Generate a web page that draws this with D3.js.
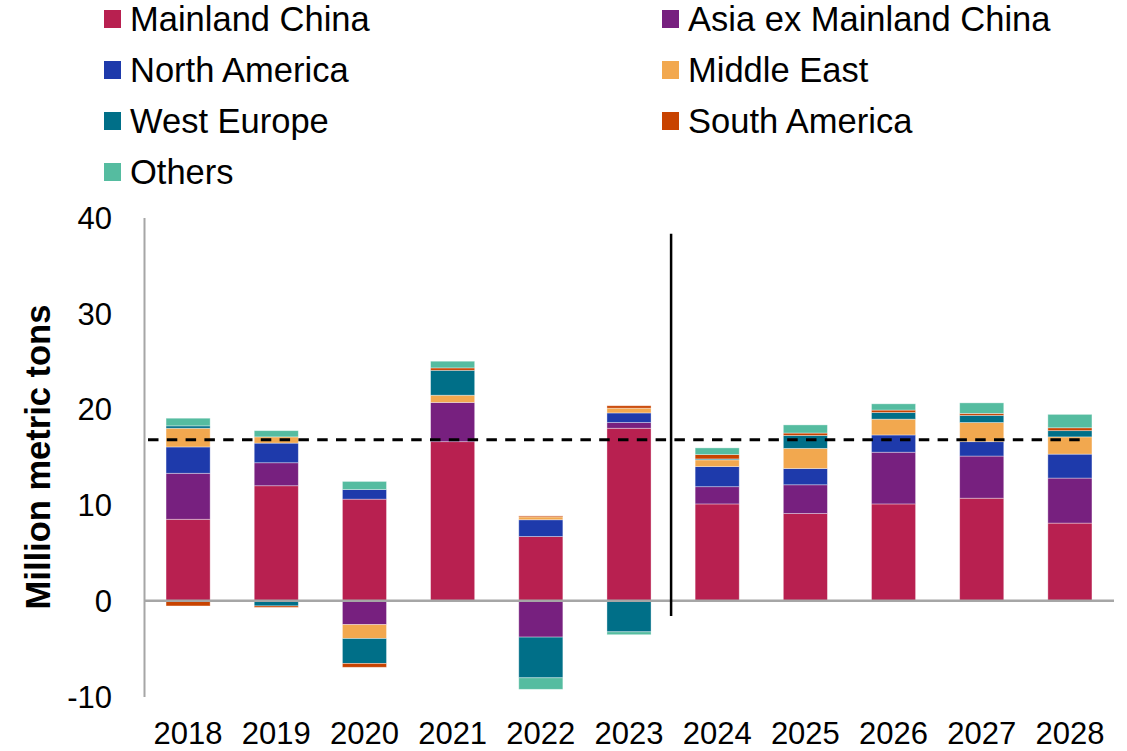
<!DOCTYPE html>
<html>
<head>
<meta charset="utf-8">
<script src="https://cdn.jsdelivr.net/npm/d3@7"></script>
<style>
  html, body { margin: 0; padding: 0; background: #fff; }
  svg { display: block; font-family: "Liberation Sans", Arial, sans-serif; }
</style>
</head>
<body>
<svg id="chart" width="1127" height="751"></svg>
<script>
// Annual change in demand by region, million metric tons
const years = ["2018", "2019", "2020", "2021", "2022", "2023", "2024", "2025", "2026", "2027", "2028"];
const mainlandChina = [8.5, 12.0, 10.6, 16.6, 6.7, 18.0, 10.1, 9.1, 10.1, 10.7, 8.1];
const asiaExChina   = [4.8, 2.4, -2.5, 4.1, -3.8, 0.6, 1.8, 3.0, 5.4, 4.4, 4.7];
const northAmerica  = [2.75, 2.05, 1.0, 0, 1.75, 1.0, 2.1, 1.7, 1.8, 1.5, 2.5];
const middleEast    = [1.95, 0.65, -1.45, 0.75, 0.3, 0.5, 0.7, 2.1, 1.65, 2.0, 1.8];
const westEurope    = [0.25, -0.55, -2.6, 2.6, -4.25, -3.25, 0.1, 1.35, 0.7, 0.75, 0.65];
const southAmerica  = [-0.55, -0.15, -0.4, 0.25, 0.1, 0.25, 0.45, 0.25, 0.25, 0.2, 0.3];
const others        = [0.8, 0.65, 0.85, 0.7, -1.2, -0.3, 0.7, 0.85, 0.65, 1.1, 1.4];

const seriesNames = ["Mainland China", "Asia ex Mainland China", "North America", "Middle East", "West Europe", "South America", "Others"];
const seriesValues = [mainlandChina, asiaExChina, northAmerica, middleEast, westEurope, southAmerica, others];
const seriesColors = ["#b82050", "#77207f", "#1e3aab", "#f2a84f", "#006f88", "#c84300", "#55bca0"];

const yTicks = [-10, 0, 10, 20, 30, 40];
const averageLevel = 16.8;      // dashed reference line
const dividerTop = 38.3, dividerBottom = -1.6;  // actual vs forecast divider
const forecastStart = "2024";

const svg = d3.select("#chart");

const x = d3.scaleBand().domain(years).range([144, 1114]).paddingInner(0.5).paddingOuter(0.25);
const y = d3.scaleLinear().domain([-10, 40]).range([696.5, 217.5]);

// rows for the stack
const rows = years.map((yr, i) => {
  const r = { year: yr };
  seriesNames.forEach((s, k) => r[s] = seriesValues[k][i]);
  return r;
});
const stacked = d3.stack().keys(seriesNames).offset(d3.stackOffsetDiverging)(rows);

// bars
const gBars = svg.append("g");
stacked.forEach((layer, k) => {
  gBars.append("g")
    .attr("fill", seriesColors[k])
    .selectAll("rect")
    .data(layer.filter(d => d[1] !== d[0]))
    .join("rect")
    .attr("x", d => x(d.data.year))
    .attr("width", x.bandwidth())
    .attr("y", d => y(Math.max(d[0], d[1])))
    .attr("height", d => Math.abs(y(d[0]) - y(d[1])))
    .attr("stroke", "#ffffff")
    .attr("stroke-opacity", 0.45)
    .attr("stroke-width", 0.8);
});

// y axis
const yAxis = d3.axisLeft(y).tickValues(yTicks).tickSize(0).tickPadding(32).tickFormat(d => String(d));
const gy = svg.append("g").attr("transform", "translate(144,0)").call(yAxis);
gy.select(".domain").attr("stroke", "#a6a6a6").attr("stroke-width", 2);
gy.selectAll("text").attr("font-size", 31).attr("fill", "#000").attr("font-family", "Liberation Sans, Arial, sans-serif").attr("dy", "0.35em");

// zero line
svg.append("line")
  .attr("x1", 144).attr("x2", 1114)
  .attr("y1", y(0)).attr("y2", y(0))
  .attr("stroke", "#a6a6a6").attr("stroke-width", 2.5);

// x axis labels
const xAxis = d3.axisBottom(x).tickSize(0).tickPadding(0);
const gx = svg.append("g").attr("transform", "translate(0,744)").call(xAxis);
gx.select(".domain").remove();
gx.selectAll("text").attr("font-size", 31).attr("fill", "#000").attr("font-family", "Liberation Sans, Arial, sans-serif").attr("y", 0).attr("dy", 0);

// dashed average line
svg.append("line")
  .attr("x1", x.range()[0] + 4)
  .attr("x2", x("2028") + x.bandwidth() * 0.82)
  .attr("y1", y(averageLevel)).attr("y2", y(averageLevel))
  .attr("stroke", "#000").attr("stroke-width", 3)
  .attr("stroke-dasharray", "10.5 8.3");

// divider between actuals and forecast
const prevYear = years[years.indexOf(forecastStart) - 1];
const divX = (x(prevYear) + x.bandwidth() + x(forecastStart)) / 2 - 2;
svg.append("line")
  .attr("x1", divX).attr("x2", divX)
  .attr("y1", y(dividerTop)).attr("y2", y(dividerBottom))
  .attr("stroke", "#000").attr("stroke-width", 2.5);

// y title
svg.append("text")
  .attr("transform", `translate(50,457) rotate(-90)`)
  .attr("text-anchor", "middle")
  .attr("font-size", 34.5)
  .attr("font-weight", "bold")
  .attr("fill", "#000")
  .text("Million metric tons");

// legend, two columns
const legend = svg.append("g");
seriesNames.forEach((name, i) => {
  const col = i % 2, row = Math.floor(i / 2);
  const lx = col === 0 ? 104 : 662;
  const ly = 19 + row * 51;
  legend.append("rect")
    .attr("x", lx).attr("y", ly - 9)
    .attr("width", 17).attr("height", 18)
    .attr("fill", seriesColors[i]);
  legend.append("text")
    .attr("x", lx + 26).attr("y", ly)
    .attr("dy", "0.36em")
    .attr("font-size", 34.5)
    .attr("fill", "#000")
    .text(name);
});
</script>
</body>
</html>
